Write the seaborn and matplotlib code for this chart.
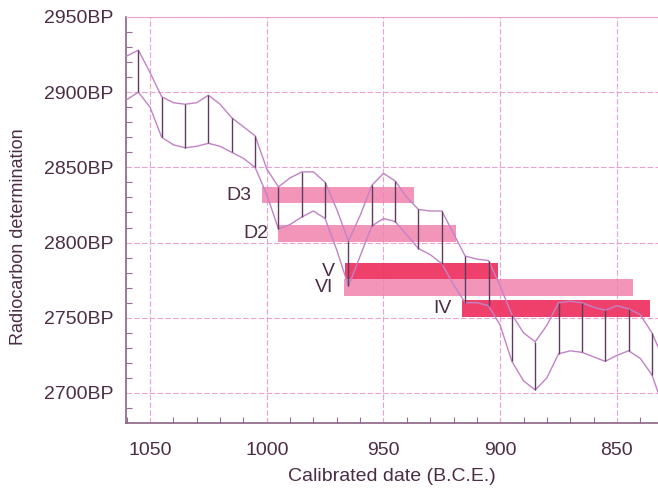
import numpy as np
import pandas as pd
import matplotlib
matplotlib.use("Agg")
import matplotlib.pyplot as plt
import seaborn as sns

# Curva de calibração (envelope superior / inferior), anos a.C.
years = [1060, 1055, 1050, 1045, 1040, 1035, 1030, 1025, 1020, 1015,
         1010, 1005, 1000, 995, 990, 985, 980, 975, 970, 965,
         960, 955, 950, 945, 940, 935, 930, 925, 920, 915,
         910, 905, 900, 895, 890, 885, 880, 875, 870, 865,
         860, 855, 850, 845, 840, 835, 830]
upper = [2924, 2928, 2913, 2897, 2893, 2892, 2893, 2898, 2892, 2883,
         2877, 2871, 2849, 2837, 2843, 2847, 2847, 2840, 2822, 2801,
         2818, 2838, 2846, 2841, 2830, 2822, 2821, 2821, 2806, 2791,
         2789, 2788, 2771, 2752, 2740, 2734, 2745, 2760, 2761, 2760,
         2757, 2755, 2758, 2756, 2752, 2740, 2722]
lower = [2895, 2900, 2890, 2870, 2865, 2863, 2864, 2866, 2864, 2860,
         2856, 2850, 2832, 2809, 2812, 2817, 2821, 2816, 2795, 2771,
         2791, 2811, 2816, 2814, 2805, 2796, 2792, 2786, 2772, 2760,
         2760, 2758, 2745, 2721, 2708, 2702, 2710, 2726, 2728, 2727,
         2724, 2721, 2725, 2728, 2723, 2712, 2690]

# Amostras (barras)
samples = ["D3", "D2", "V", "VI", "IV"]
start_year = [1002, 995, 966.5, 967, 916.5]
end_year = [937, 919, 901, 843, 836]
bp_value = [2831.5, 2806, 2781, 2770, 2756]
strong = [False, False, True, False, True]

x_ticks = [1050, 1000, 950, 900, 850]
y_ticks = [2700, 2750, 2800, 2850, 2900, 2950]
y_tick_labels = ["2700BP", "2750BP", "2800BP", "2850BP", "2900BP", "2950BP"]

curve = pd.DataFrame({"year": years, "upper": upper, "lower": lower})

sns.set_style("ticks")
plt.rcParams["font.family"] = ["Liberation Sans", "DejaVu Sans"]

txt = "#4b2d45"
fig = plt.figure(figsize=(6.58, 4.88), dpi=100)
ax = fig.add_axes([126 / 658, 1 - 423 / 488, 532 / 658, 406 / 488])

# barras
for name, s, e, v, st in zip(samples, start_year, end_year, bp_value, strong):
    col = "#ee3563" if st else "#f283ad"
    ax.barh(v, s - e, left=e, height=11, color=col, alpha=0.95 if st else 0.85,
            linewidth=0, zorder=2)
    ax.text(s + 4.5, v, name, ha="right", va="center", fontsize=14, color=txt, zorder=5)

# envelope
sns.lineplot(data=curve, x="year", y="upper", ax=ax, color="#c283c6", lw=1, zorder=3)
sns.lineplot(data=curve, x="year", y="lower", ax=ax, color="#c283c6", lw=1, zorder=3)
hatch = curve[curve["year"] % 10 == 5]
ax.vlines(hatch["year"], hatch["lower"], hatch["upper"], color="#5e3c5c", lw=1, zorder=4)

ax.set_xlim(1060.3, 832.4)
ax.set_ylim(2680, 2950)
ax.set_xticks(x_ticks)
ax.set_yticks(y_ticks)
ax.set_yticklabels(y_tick_labels)
ax.set_xticks(np.arange(1060, 830, -10), minor=True)
ax.set_yticks(np.arange(2690, 2950, 10), minor=True)
ax.grid(True, which="major", color="#e8a2d4", lw=0.8, ls=(0, (5, 2)), zorder=1)
ax.tick_params(which="major", length=0, pad=9, labelsize=14, labelcolor=txt)
ax.tick_params(axis="x", which="major", pad=14)
ax.tick_params(which="minor", direction="in", length=4, width=0.8, color="#9a6c96")

for side in ["left", "bottom"]:
    ax.spines[side].set_color("#8a6486")
    ax.spines[side].set_linewidth(1.2)
ax.spines["top"].set_color("#e8a2d4")
ax.spines["top"].set_linewidth(0.8)
ax.spines["right"].set_visible(False)

ax.set_xlabel("Calibrated date (B.C.E.)", fontsize=14, color=txt, labelpad=6)
ax.set_ylabel("Radiocarbon determination", fontsize=13, color=txt)
ax.yaxis.set_label_coords(-0.187, 0.458)

fig.savefig("out.png", dpi=100)
